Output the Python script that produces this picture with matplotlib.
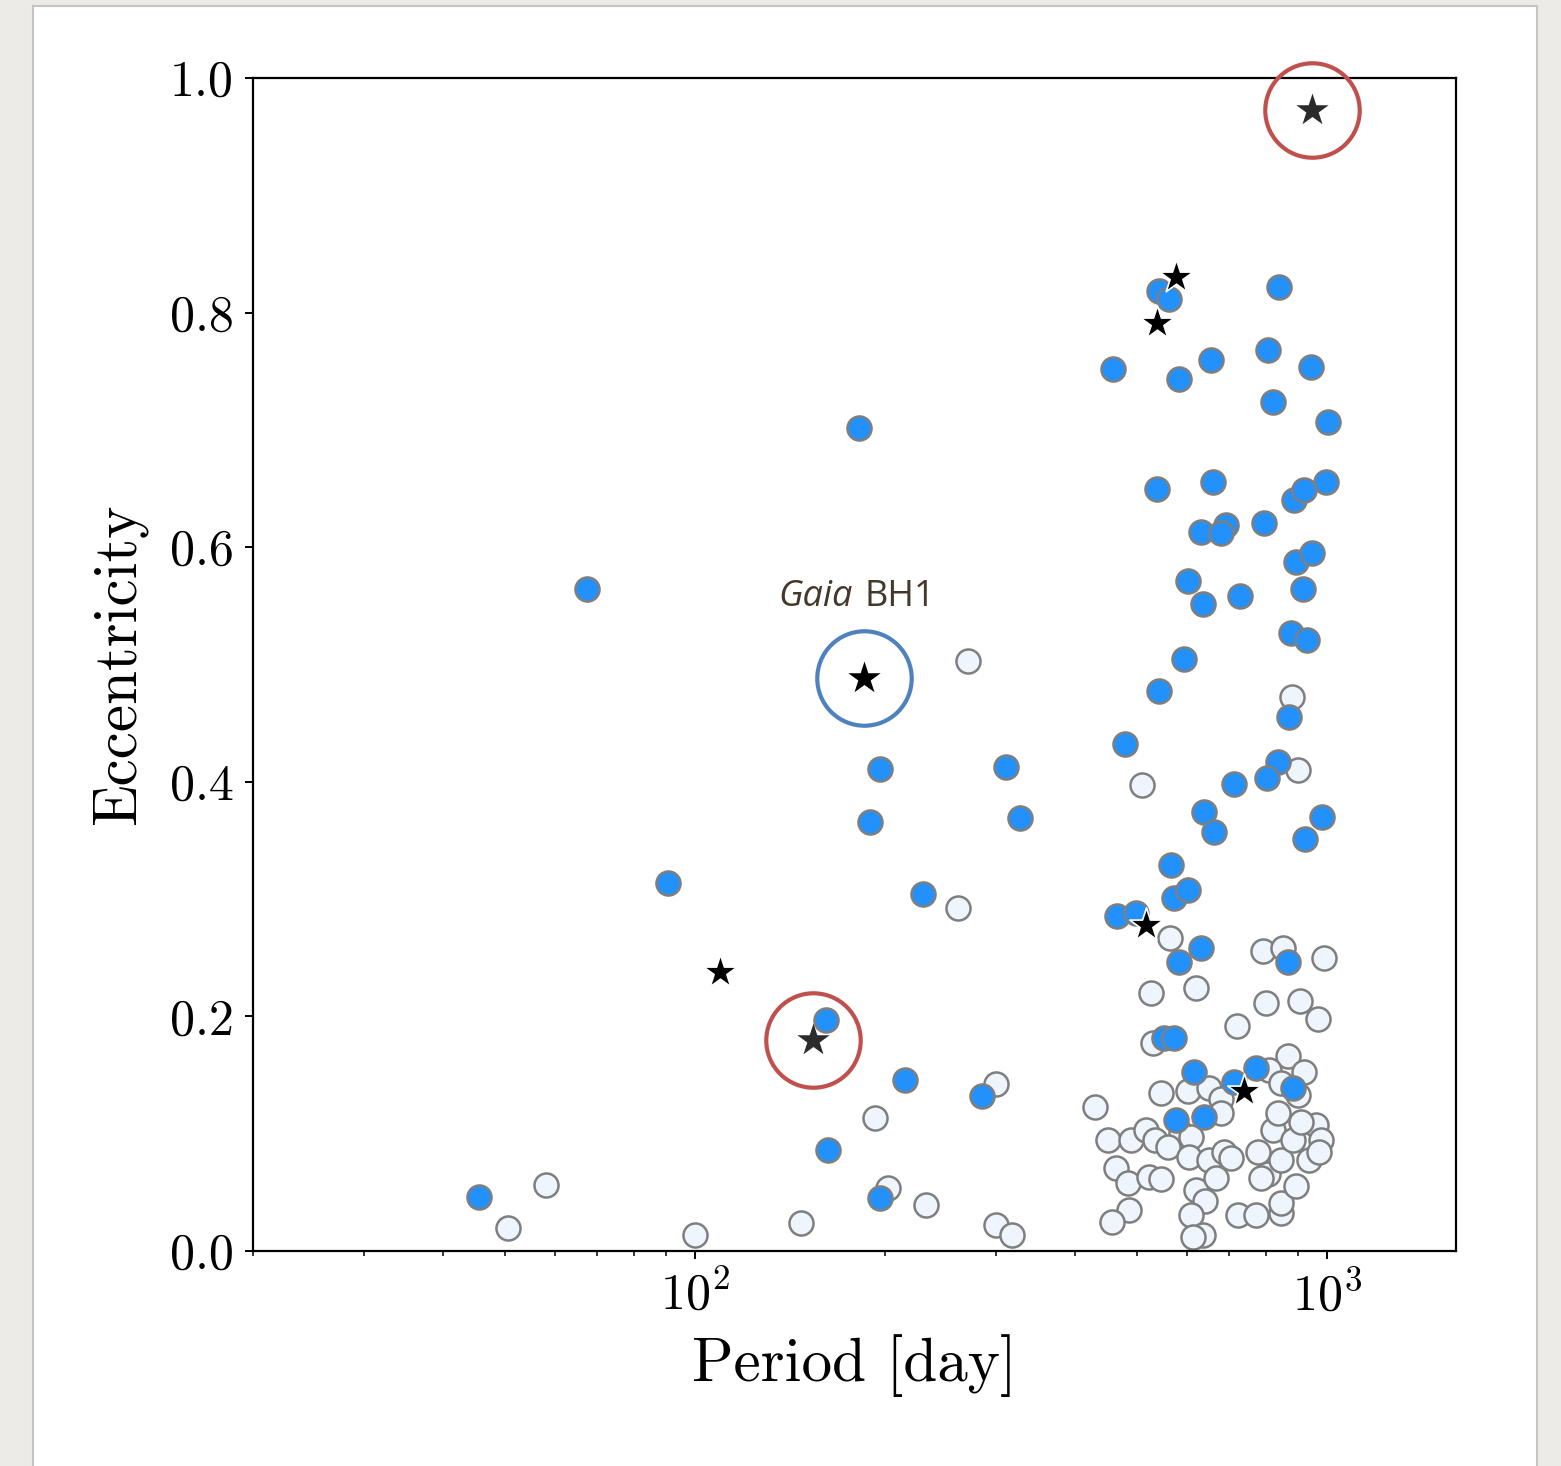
import numpy as np
import matplotlib.pyplot as plt
from matplotlib.patches import Rectangle

plt.rcParams.update({'font.family': 'serif', 'font.serif': ['cmr10'],
                     'mathtext.fontset': 'cm', 'axes.unicode_minus': False})

# binaries with significant orbit solution (blue) -- period [d], eccentricity
p_blue = [45.5, 67.4, 90.6, 182, 196.5, 189.4, 229.8, 311, 327, 161.3, 215, 285, 162.5, 196.5,
          542, 562, 840, 458, 583, 655, 806, 943, 821, 1004, 538, 660, 887, 919, 996,
          631, 692, 679, 795, 893, 946, 602, 636, 728, 916, 877, 930, 594, 542, 480,
          713, 638, 662, 871, 837, 803, 982, 923, 566, 572, 602, 465, 498, 633, 583,
          868, 552, 572, 616, 713, 772, 883, 577, 638]
e_blue = [0.046, 0.564, 0.314, 0.702, 0.411, 0.366, 0.304, 0.413, 0.369, 0.197, 0.146, 0.132, 0.086, 0.045,
          0.818, 0.812, 0.822, 0.752, 0.743, 0.760, 0.768, 0.754, 0.724, 0.707, 0.650, 0.656, 0.640, 0.649, 0.656,
          0.613, 0.619, 0.612, 0.621, 0.587, 0.595, 0.571, 0.552, 0.558, 0.564, 0.527, 0.521, 0.505, 0.477, 0.432,
          0.398, 0.374, 0.357, 0.455, 0.417, 0.403, 0.370, 0.351, 0.329, 0.301, 0.308, 0.286, 0.288, 0.258, 0.246,
          0.246, 0.182, 0.182, 0.153, 0.144, 0.156, 0.139, 0.112, 0.114]

# other binaries (open)
p_white = [50.7, 58.1, 100, 147, 193, 202, 232, 261, 270, 300, 300, 318, 429, 509, 880, 899,
           564, 792, 852, 989, 526, 620, 801, 906, 968, 720, 530, 868, 809, 919, 846, 899,
           546, 602, 650, 679, 587, 679, 450, 489, 518, 534, 560, 609, 605, 650, 686, 705,
           463, 485, 522, 546, 620, 641, 667, 486, 457, 609, 636, 614, 723, 772, 846, 846,
           778, 821, 837, 806, 846, 883, 893, 936, 960, 978, 971, 909, 786]
e_white = [0.020, 0.056, 0.014, 0.024, 0.113, 0.054, 0.039, 0.292, 0.503, 0.142, 0.022, 0.014, 0.123, 0.397, 0.472, 0.410,
           0.267, 0.256, 0.258, 0.250, 0.220, 0.224, 0.211, 0.213, 0.198, 0.192, 0.177, 0.166, 0.154, 0.153, 0.143, 0.133,
           0.135, 0.136, 0.139, 0.130, 0.101, 0.118, 0.095, 0.095, 0.103, 0.095, 0.089, 0.097, 0.080, 0.078, 0.084, 0.079,
           0.071, 0.058, 0.063, 0.061, 0.052, 0.043, 0.062, 0.035, 0.025, 0.031, 0.014, 0.012, 0.031, 0.031, 0.032, 0.041,
           0.084, 0.103, 0.118, 0.066, 0.078, 0.095, 0.055, 0.078, 0.107, 0.095, 0.084, 0.110, 0.062]

# black hole candidates
p_star = [109.6, 576, 538, 518, 739]
e_star = [0.238, 0.830, 0.791, 0.278, 0.136]

# highlighted systems
p_red = [153.8, 947]
e_red = [0.180, 0.973]
p_bh1, e_bh1 = 185.3, 0.4885

fig = plt.figure(figsize=(15.61, 14.66), dpi=100)
fig.patch.set_facecolor('#ecebe7')
# white page on grey background
fig.patches.append(Rectangle((33/1561, -0.01), 1504/1561, 1.0059, transform=fig.transFigure,
                             facecolor='white', edgecolor='#c4c4c4', lw=1.5, zorder=-10))
ax = fig.add_axes([253/1561, 1 - 1251/1466, 1203/1561, 1173/1466])
ax.set_zorder(5)

ax.scatter(p_white, e_white, s=300, c='#eef5fc', edgecolors='#7f7f7f', linewidths=1.8, zorder=2)
ax.scatter(p_blue, e_blue, s=300, c='#2391fb', edgecolors='#7f7f7f', linewidths=1.8, zorder=2)
ax.scatter(p_star, e_star, s=640, marker='*', c='black', edgecolors='white', linewidths=1.2, zorder=3)
ax.scatter(p_red, e_red, s=600, marker='*', c='#2b2b2b', linewidths=0, zorder=3)
ax.scatter([p_bh1], [e_bh1], s=600, marker='*', c='black', linewidths=0, zorder=3)

ax.plot(p_red, e_red, 'o', ms=68, mfc='none', mec='#c0504d', mew=3, ls='none', zorder=4, clip_on=False)
ax.plot([p_bh1], [e_bh1], 'o', ms=68, mfc='none', mec='#4f81bd', mew=3, zorder=4)

ax.annotate('Gaia', (p_bh1, e_bh1), xytext=(-11, 72), textcoords='offset pixels', ha='right',
            va='baseline', fontsize=26, family='Open Sans', style='italic', color='#43382a')
ax.annotate('BH1', (p_bh1, e_bh1), xytext=(0, 72), textcoords='offset pixels', ha='left',
            va='baseline', fontsize=26, family='Open Sans', color='#43382a')

ax.set_xscale('log')
ax.set_xlim(20, 1600)
ax.set_ylim(0, 1.0)
ax.set_yticks([0.0, 0.2, 0.4, 0.6, 0.8, 1.0])
ax.set_yticklabels(['0.0', '0.2', '0.4', '0.6', '0.8', '1.0'])
ax.tick_params(axis='both', which='major', labelsize=36, length=6, width=1.4, direction='out', pad=8)
ax.tick_params(axis='x', which='minor', length=3.5, width=1.1, direction='out')
ax.tick_params(axis='y', which='minor', left=False)
for sp in ax.spines.values():
    sp.set_linewidth(1.6)

ax.set_xlabel('Period [day]', fontsize=44, labelpad=10)
ax.set_ylabel('Eccentricity', fontsize=44, labelpad=16)

fig.savefig('out.png', dpi=100, facecolor=fig.get_facecolor())
